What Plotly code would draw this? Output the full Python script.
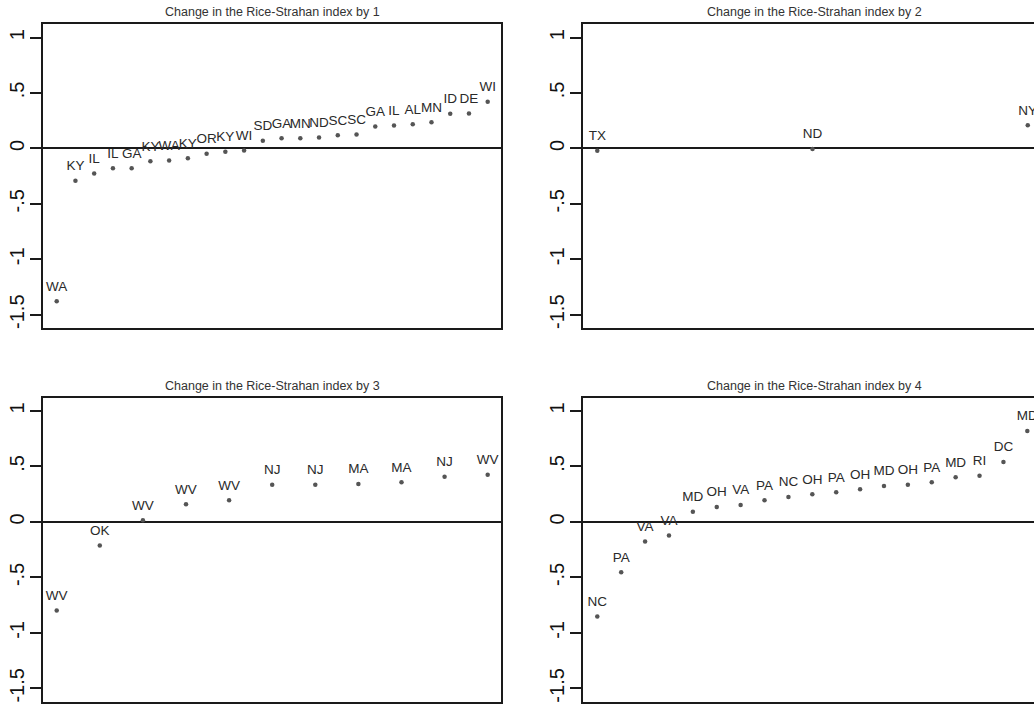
import plotly.graph_objects as go

W, H = 1034, 709

# ---- data ----
titles = ["Change in the Rice-Strahan index by 1", "Change in the Rice-Strahan index by 2",
          "Change in the Rice-Strahan index by 3", "Change in the Rice-Strahan index by 4"]

labels1 = ["WA", "KY", "IL", "IL", "GA", "KY", "WA", "KY", "OR", "KY", "WI", "SD",
           "GA", "MN", "ND", "SC", "SC", "GA", "IL", "AL", "MN", "ID", "DE", "WI"]
values1 = [-1.378, -0.292, -0.226, -0.178, -0.178, -0.115, -0.108, -0.088, -0.049, -0.030,
           -0.018, 0.069, 0.093, 0.093, 0.099, 0.120, 0.126, 0.199, 0.208, 0.219, 0.237,
           0.312, 0.316, 0.421]

labels2 = ["TX", "ND", "NY"]
values2 = [-0.020, -0.004, 0.210]

labels3 = ["WV", "OK", "WV", "WV", "WV", "NJ", "NJ", "MA", "MA", "NJ", "WV"]
values3 = [-0.799, -0.213, 0.015, 0.159, 0.195, 0.336, 0.336, 0.342, 0.357, 0.408, 0.426]

labels4 = ["NC", "PA", "VA", "VA", "MD", "OH", "VA", "PA", "NC", "OH", "PA", "OH", "MD",
           "OH", "PA", "MD", "RI", "DC", "MD"]
values4 = [-0.853, -0.453, -0.177, -0.123, 0.093, 0.135, 0.153, 0.195, 0.225, 0.249, 0.267,
           0.294, 0.324, 0.336, 0.357, 0.402, 0.417, 0.541, 0.820]

ytickvals = [-1.5, -1, -0.5, 0, 0.5, 1]
yticktext = ["-1.5", "-1", "-.5", "0", ".5", "1"]

# ---- layout geometry (pixels) ----
panels = [
    dict(lab=labels1, val=values1, x0=43.3, x1=501.0, y0=24.3, y1=328.0, xr=[0.285, 24.71], mirror_right=True),
    dict(lab=labels2, val=values2, x0=583.3, x1=1034.0, y0=24.3, y1=328.0, xr=[0.935, 3.029], mirror_right=False),
    dict(lab=labels3, val=values3, x0=43.3, x1=501.0, y0=397.7, y1=701.7, xr=[0.689, 11.309], mirror_right=True),
    dict(lab=labels4, val=values4, x0=583.3, x1=1034.0, y0=397.7, y1=701.7, xr=[0.414, 19.28], mirror_right=False),
]

fig = go.Figure()
LINE = "#1a1a1a"
FONT = "Liberation Sans, Arial"
annotations = []
for i, p in enumerate(panels):
    n = i + 1
    xa = "x" if n == 1 else f"x{n}"
    ya = "y" if n == 1 else f"y{n}"
    xs = list(range(1, len(p["val"]) + 1))
    # dots
    fig.add_trace(go.Scatter(
        x=xs, y=p["val"], mode="markers",
        marker=dict(size=4.5, color="#555555"),
        xaxis=xa, yaxis=ya, showlegend=False, hoverinfo="skip", cliponaxis=True,
    ))
    # labels (invisible larger marker lifts text a little higher)
    fig.add_trace(go.Scatter(
        x=xs, y=p["val"], text=p["lab"], mode="markers+text",
        textposition="top center",
        marker=dict(size=10, color="rgba(0,0,0,0)"),
        textfont=dict(family=FONT, size=13.5, color="#2a2a2a"),
        xaxis=xa, yaxis=ya, showlegend=False, hoverinfo="skip", cliponaxis=True,
    ))
    xdom = [p["x0"] / W, min(p["x1"] / W, 1.0)]
    ydom = [(H - p["y1"]) / H, (H - p["y0"]) / H]
    fig.layout[f"xaxis{'' if n == 1 else n}"] = dict(
        domain=xdom, range=p["xr"], anchor=ya, showgrid=False, zeroline=False,
        showticklabels=False, ticks="", showline=True, linecolor=LINE, linewidth=2,
        mirror=True, fixedrange=True,
    )
    fig.layout[f"yaxis{'' if n == 1 else n}"] = dict(
        domain=ydom, range=[-1.62, 1.12], anchor=xa, showgrid=False,
        zeroline=True, zerolinecolor=LINE, zerolinewidth=2,
        tickvals=ytickvals, ticktext=yticktext, tickangle=-90,
        ticks="outside", ticklen=11, tickwidth=1.5, tickcolor=LINE,
        tickfont=dict(family=FONT, size=20, color="#111111"),
        ticklabelstandoff=-2,
        showline=True, linecolor=LINE, linewidth=2,
        mirror=p["mirror_right"], fixedrange=True,
    )
    right = p["x1"] if p["mirror_right"] else p["x0"] + 461.5
    annotations.append(dict(
        text=titles[i], xref="paper", yref="paper",
        x=(p["x0"] + right) / 2 / W,
        y=(H - p["y0"] + 3) / H, xanchor="center", yanchor="bottom", showarrow=False,
        font=dict(family=FONT, size=12.5, color="#333333"),
    ))

fig.update_layout(
    width=W, height=H, margin=dict(l=0, r=0, t=0, b=0),
    paper_bgcolor="white", plot_bgcolor="white",
    annotations=annotations,
)

fig.write_html("out.html", config={"displayModeBar": False})
